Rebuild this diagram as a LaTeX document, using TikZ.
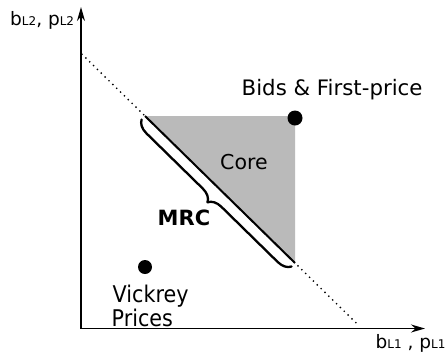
\documentclass[tikz,border=0pt]{standalone}
\usepackage{fontspec}
\setmainfont{DejaVu Sans}
\newfontfamily\narrowfont[FakeStretch=0.9]{DejaVu Sans}
\usetikzlibrary{decorations.pathreplacing,arrows.meta,calc}
\newcommand{\lsub}[1]{{\fontsize{12}{12}\selectfont\raisebox{-0.5pt}{#1}}}
\begin{document}
\begin{tikzpicture}[x=1pt,y=-1pt,
  lbl/.style={font=\fontsize{20.5}{24}\selectfont, inner sep=0pt, anchor=base west},
  axlbl/.style={font=\fontsize{18.5}{20}\selectfont, inner sep=0pt, anchor=base west},
  axisline/.style={line width=1.5pt, {Stealth[length=14pt,width=8pt]}-{Stealth[length=14pt,width=8pt]}},
  coregray/.style={fill=black!27},
  bracestyle/.style={line width=2.3pt, line cap=round, line join=round,
     decorate, decoration={brace, amplitude=13pt}},
  dotline/.style={line width=1.9pt, line cap=round, dash pattern=on 0pt off 5.4pt},
  bigdot/.style={fill=black}
]
\useasboundingbox (0,0) rectangle (445,360);
% axes
\coordinate (O) at (81,328.5);
\coordinate (ytop) at (81,7);
\coordinate (xend) at (425,328.5);
\draw[axisline] (ytop) -- (O) -- (xend);
% core triangle
\coordinate (A) at (145,116);
\coordinate (C) at (295,116);
\coordinate (B) at (295,263);
\fill[coregray] (A) -- (C) -- (B) -- cycle;
% dotted budget line
\coordinate (D1) at ($(A)!-0.42!(B)$);
\coordinate (D2) at ($(A)!1.42!(B)$);
\draw[dotline] (D1) -- (D2);
\draw[line width=2pt] (A) -- (B);
% brace (MRC)
\coordinate (A') at ($(A)+(-3.4,3.5)$);
\coordinate (B') at ($(B)+(-3.4,3.5)$);
\draw[bracestyle] (B') -- (A');
% points
\fill[bigdot] (295,118) circle (7.5);
\fill[bigdot] (145,267) circle (7);
% labels
\node[lbl, font=\fontsize{21.3}{24}\selectfont] (bids) at (241.5,95) {Bids \& First-price};
\node[lbl] (core) at (220,169) {Core};
\node[lbl, font=\fontsize{21}{24}\selectfont\bfseries] (mrc) at (157.5,225) {MRC};
\node[lbl, font=\fontsize{23}{24}\narrowfont] (vick) at (112.5,302.5) {Vickrey};
\node[lbl, font=\fontsize{23}{24}\narrowfont] (prices) at (111.5,326) {Prices};
\node[axlbl] (ylab) at (10,25) {b\lsub{L2}, p\lsub{L2}};
\node[axlbl] (xlab) at (375.5,348) {b\lsub{L1} , p\lsub{L1}};
\end{tikzpicture}
\end{document}
